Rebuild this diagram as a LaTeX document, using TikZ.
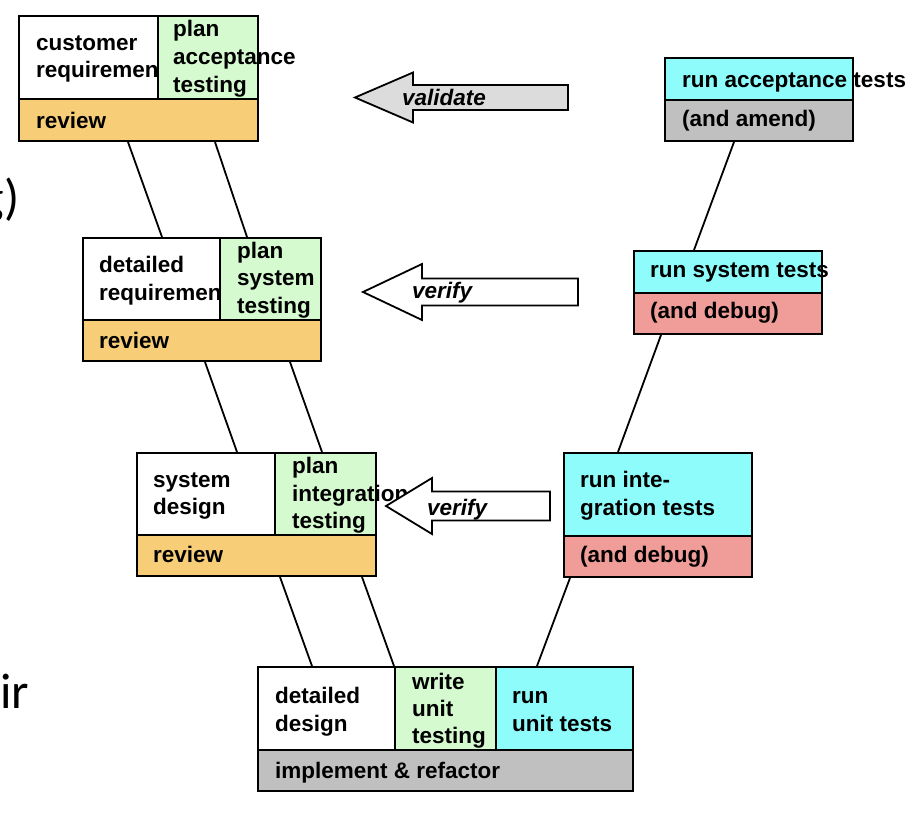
\documentclass[tikz,border=0pt]{standalone}
\usepackage{fontspec}
\setmainfont{Liberation Sans}
\newfontfamily\slidefont{Carlito}
\usetikzlibrary{positioning}

\definecolor{plangreen}{HTML}{D5FAD0}
\definecolor{revieworange}{HTML}{F7CD78}
\definecolor{runcyan}{HTML}{8FFCFC}
\definecolor{debugpink}{HTML}{F09C98}
\definecolor{amendgray}{HTML}{C0C0C0}
\definecolor{arrowgray}{HTML}{DCDCDC}

\begin{document}
\begin{tikzpicture}[
x=1pt, y=-1pt,
cell/.style={draw, line width=2pt, anchor=north west, inner sep=0pt},
lbl/.style={anchor=base west, inner sep=0pt, font=\fontsize{22.5}{27}\bfseries\selectfont},
vlbl/.style={lbl, font=\fontsize{22.5}{27}\bfseries\itshape\selectfont},
frag/.style={inner sep=0pt, font=\slidefont\fontsize{50}{60}\selectfont},
link/.style={line width=1.8pt},
bigarrow/.style={draw, line width=1.8pt, line join=miter}
]
\useasboundingbox (0,0) rectangle (922,828);

% left leg of the V
\node[cell, fill=white, minimum width=139pt, minimum height=83pt] (cr1) at (18,15) {};
\foreach \t/\y in {customer/50, requirements/77}
  \node[lbl] (cr1-\y) at (36,\y) {\t};
\node[cell, fill=plangreen, minimum width=100pt, minimum height=83pt] (pa1) at (157,15) {};
\foreach \t/\y in {plan/36, acceptance/64, testing/92}
  \node[lbl] (pa1-\y) at (173,\y) {\t};
\node[cell, fill=revieworange, minimum width=239pt, minimum height=42pt] (rv1) at (18,98) {};
\node[lbl] (rv1-t) at (36,128) {review};

\node[cell, fill=white, minimum width=137pt, minimum height=82pt] (dr2) at (82,237) {};
\foreach \t/\y in {detailed/272, requirements/300}
  \node[lbl] (dr2-\y) at (99,\y) {\t};
\node[cell, fill=plangreen, minimum width=101pt, minimum height=82pt] (ps2) at (219,237) {};
\foreach \t/\y in {plan/258, system/285.5, testing/313}
  \node[lbl] (ps2-\y) at (237,\y) {\t};
\node[cell, fill=revieworange, minimum width=238pt, minimum height=41pt] (rv2) at (82,319) {};
\node[lbl] (rv2-t) at (99,348) {review};

\node[cell, fill=white, minimum width=138pt, minimum height=82pt] (sd3) at (136,452) {};
\foreach \t/\y in {system/487, design/514}
  \node[lbl] (sd3-\y) at (153,\y) {\t};
\node[cell, fill=plangreen, minimum width=101pt, minimum height=82pt] (pi3) at (274,452) {};
\foreach \t/\y in {plan/473, integration/501, testing/528}
  \node[lbl] (pi3-\y) at (292,\y) {\t};
\node[cell, fill=revieworange, minimum width=239pt, minimum height=41pt] (rv3) at (136,534) {};
\node[lbl] (rv3-t) at (153,562) {review};

% bottom of the V
\node[cell, fill=white, minimum width=137pt, minimum height=83pt] (dd4) at (257,666) {};
\foreach \t/\y in {detailed/703, design/731}
  \node[lbl] (dd4-\y) at (275,\y) {\t};
\node[cell, fill=plangreen, minimum width=101pt, minimum height=83pt] (wu4) at (394,666) {};
\foreach \t/\y in {write/689, unit/716, testing/743}
  \node[lbl] (wu4-\y) at (412,\y) {\t};
\node[cell, fill=runcyan, minimum width=137pt, minimum height=83pt] (ru4) at (495,666) {};
\foreach \t/\y in {run/703, unit tests/731}
  \node[lbl] (ru4-\y) at (512,\y) {\t};
\node[cell, fill=amendgray, minimum width=375pt, minimum height=41pt] (ir4) at (257,749) {};
\node[lbl] (ir4-t) at (275,778) {implement \& refactor};

% right leg of the V
\node[cell, fill=runcyan, minimum width=188pt, minimum height=42pt] (ra) at (664,57) {};
\node[lbl] (ra-t) at (682,87) {run acceptance tests};
\node[cell, fill=amendgray, minimum width=188pt, minimum height=41pt] (am) at (664,99) {};
\node[lbl] (am-t) at (682,126) {(and amend)};

\node[cell, fill=runcyan, minimum width=188pt, minimum height=42pt] (rs) at (633,250) {};
\node[lbl] (rs-t) at (650,277) {run system tests};
\node[cell, fill=debugpink, minimum width=188pt, minimum height=41pt] (ds) at (633,292) {};
\node[lbl] (ds-t) at (650,318) {(and debug)};

\node[cell, fill=runcyan, minimum width=188pt, minimum height=83pt] (ri) at (563,452) {};
\foreach \t/\y in {run inte-/487, gration tests/515}
  \node[lbl] (ri-\y) at (580,\y) {\t};
\node[cell, fill=debugpink, minimum width=188pt, minimum height=41pt] (di) at (563,535) {};
\node[lbl] (di-t) at (580,562) {(and debug)};

% links between the stages
\foreach \a/\da/\b/\db in {rv1/110/dr2/80, rv1/197/ps2/28, rv2/123/sd3/101, rv2/208/pi3/48,
  rv3/144/dd4/55, rv3/226/wu4/0, am/70/rs/61, ds/28/ri/55, di/7/ru4/42}
  \draw[link] ([xshift=\da pt]\a.south west) -- ([xshift=\db pt]\b.north west);

% validate / verify arrows
\foreach \tx/\ty/\hx/\hh/\sh/\rx/\col in {355/97.5/413/25/12.5/568/arrowgray,
  363/292/422/28/13.5/578/white, 386/506/432/28/14.5/550/white}
  \draw[bigarrow, fill=\col] ({\rx},{\ty-\sh}) -- ({\hx},{\ty-\sh}) -- ({\hx},{\ty-\hh})
    -- ({\tx},{\ty}) -- ({\hx},{\ty+\hh}) -- ({\hx},{\ty+\sh}) -- ({\rx},{\ty+\sh}) -- cycle;
\node[vlbl] (validate) at (402,105) {validate};
\node[vlbl] (verify1) at (412,298) {verify};
\node[vlbl] (verify2) at (427,515) {verify};

% cut-off slide text at the left edge
\node[frag, anchor=base east] (frag1) at (19.5,214) {g)};
\node[frag, anchor=base west] (frag2) at (0,708) {ir};
\end{tikzpicture}
\end{document}
